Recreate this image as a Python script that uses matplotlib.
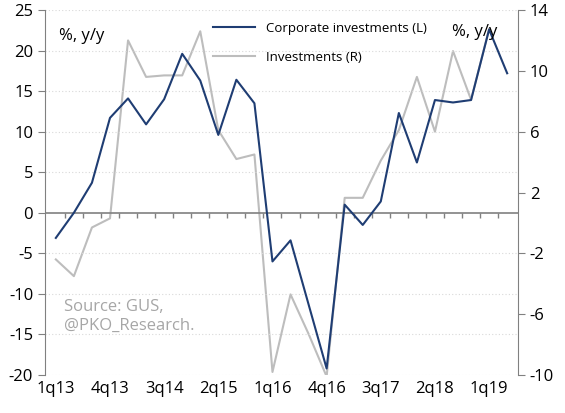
import matplotlib
matplotlib.use("Agg")
import matplotlib.pyplot as plt
import numpy as np

quarters = [f"{q}q{y}" for y in range(13, 20) for q in range(1, 5)][:26]
corporate = [-3.1, 0.0, 3.7, 11.7, 14.1, 10.9, 14.0, 19.6, 16.3, 9.6, 16.4, 13.5,
             -6.0, -3.4, -11.3, -19.2, 1.0, -1.5, 1.4, 12.3, 6.2, 13.9, 13.6, 13.9, 22.6, 17.2]
investments = [-2.4, -3.5, -0.3, 0.3, 12.0, 9.6, 9.7, 9.7, 12.6, 6.1, 4.2, 4.5,
               -9.8, -4.7, -7.3, -10.1, 1.65, 1.65, 4.1, 6.1, 9.6, 6.0, 11.3, 8.1, 12.75]
label_every = 3

plt.rcParams['font.family'] = ['Open Sans', 'DejaVu Sans']
plt.rcParams['axes.unicode_minus'] = False
fig = plt.figure(figsize=(5.65, 4.13), dpi=100)
ax = fig.add_axes([45/565, 38/413, 473/565, 365/413])
ax2 = ax.twinx()

x = np.arange(len(corporate))
blue = '#1f3d73'
grey = '#bdbdbd'
ax2.plot(np.arange(len(investments)), investments, color=grey, lw=1.5, label='Investments (R)')
ax.plot(x, corporate, color=blue, lw=1.5, label='Corporate investments (L)', zorder=3)
ax.set_zorder(ax2.get_zorder() + 1)
ax.patch.set_visible(False)

ax.set_xlim(-0.6, len(corporate) - 0.4)
ax.set_ylim(-20, 25)
ax.set_yticks(np.arange(-20, 26, 5))
ax2.set_ylim(-10, 14)
ax2.set_yticks(np.arange(-10, 15, 4))
for v in np.arange(-20, 26, 5):
    if v != 0:
        ax.axhline(v, color='#d9d9d9', lw=0.8, ls=(0, (1, 2)), zorder=0)
ax.axhline(0, color='#808080', lw=1.2, zorder=1)
ax.vlines(x[:-1] + 0.5, -0.7, 0, color='#808080', lw=1.0)

ax.set_xticks(x[::label_every])
ax.set_xticklabels(quarters[::label_every])
ax.tick_params(axis='x', length=0, labelsize=12, pad=4)
ax.tick_params(axis='y', labelsize=12, color='#808080', length=5)
ax2.tick_params(axis='y', labelsize=12, color='#808080', length=5)
for a in (ax, ax2):
    for s in ('top', 'bottom'):
        a.spines[s].set_visible(False)
    a.spines['left'].set_color('#808080')
    a.spines['right'].set_color('#808080')
ax.spines['right'].set_visible(False)
ax2.spines['left'].set_visible(False)

h1, l1 = ax.get_legend_handles_labels()
h2, l2 = ax2.get_legend_handles_labels()
leg = ax.legend(h1 + h2, l1 + l2, loc='upper left', bbox_to_anchor=(0.33, 1.0),
                frameon=False, fontsize=9.5, handlelength=3.2, labelspacing=1.2)

ax.text(0.03, 0.93, '%, y/y', transform=ax.transAxes, fontsize=12, va='center')
ax.text(0.86, 0.94, '%, y/y', transform=ax.transAxes, fontsize=12, va='center')
ax.text(0.04, 0.16, 'Source: GUS,\n@PKO_Research.', transform=ax.transAxes,
        fontsize=12, color='#a6a6a6', va='center', linespacing=1.2)
fig.savefig('out.png', dpi=100)
